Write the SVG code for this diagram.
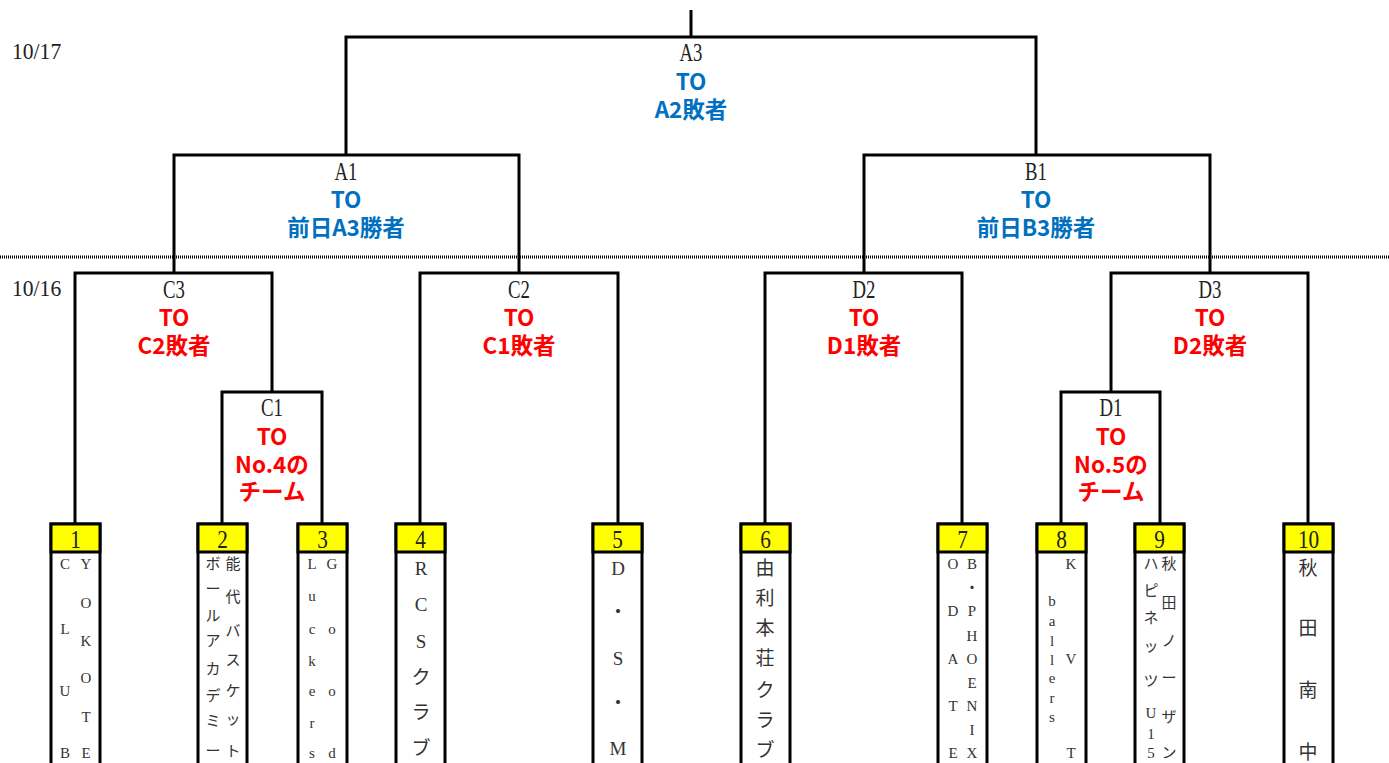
<svg xmlns="http://www.w3.org/2000/svg" width="1389" height="763" viewBox="0 0 1389 763">
<style>
.ln{fill:none;stroke:#000;stroke-width:3}
.bx{fill:#fff;stroke:#000;stroke-width:3}
.hd{fill:#ffff00;stroke:#000;stroke-width:3}
.lab{font-family:"Liberation Serif","Noto Sans CJK JP",serif;font-size:25px;fill:#222;text-anchor:middle}
.date{font-family:"Liberation Serif",serif;font-size:24px;fill:#222}
.num{font-family:"Liberation Serif",serif;font-size:25px;fill:#222;text-anchor:middle}
.nm{font-family:"Liberation Serif","Noto Sans CJK JP",serif;font-size:19px;fill:#333;text-anchor:middle}
.sm{font-family:"Liberation Serif","Noto Sans CJK JP",serif;font-size:15px;fill:#333;text-anchor:middle}
.blue{font-family:"Noto Sans CJK JP",sans-serif;font-weight:bold;font-size:22.5px;fill:#0070c0;text-anchor:middle}
.red{font-family:"Noto Sans CJK JP",sans-serif;font-weight:bold;font-size:22.5px;fill:#ff0000;text-anchor:middle}
</style>
<rect width="1389" height="763" fill="#fff"/>
<g id="connectors">
<path class="ln" d="M691 10V37M346 155V37H1036V155"/>
<path class="ln" d="M174 273V155H519V273"/>
<path class="ln" d="M864 273V155H1210V273"/>
<path class="ln" d="M75 523V273H272V392"/>
<path class="ln" d="M222 523V392H322V523"/>
<path class="ln" d="M420 523V273H618V523"/>
<path class="ln" d="M765 523V273H962V523"/>
<path class="ln" d="M1111 392V273H1308V523"/>
<path class="ln" d="M1061 523V392H1160V523"/>
<line x1="0" y1="257" x2="1389" y2="257" stroke="#000" stroke-width="3" stroke-dasharray="1,1"/>
</g>
<g id="dates">
<text class="date" transform="translate(12,59) scale(0.9,1)">10/17</text>
<text class="date" transform="translate(12,296) scale(0.9,1)">10/16</text>
</g>
<g id="A3"><text class="lab" transform="translate(691,61) scale(0.75,1)">A3</text><text class="blue" x="691" y="90">TO</text><text class="blue" x="691" y="118">A2敗者</text></g>
<g id="A1"><text class="lab" transform="translate(346,180) scale(0.75,1)">A1</text><text class="blue" x="346" y="208">TO</text><text class="blue" x="346" y="236">前日A3勝者</text></g>
<g id="B1"><text class="lab" transform="translate(1036,180) scale(0.75,1)">B1</text><text class="blue" x="1036" y="208">TO</text><text class="blue" x="1036" y="236">前日B3勝者</text></g>
<g id="C3"><text class="lab" transform="translate(174,298) scale(0.75,1)">C3</text><text class="red" x="174" y="326">TO</text><text class="red" x="174" y="354">C2敗者</text></g>
<g id="C2"><text class="lab" transform="translate(519,298) scale(0.75,1)">C2</text><text class="red" x="519" y="326">TO</text><text class="red" x="519" y="354">C1敗者</text></g>
<g id="D2"><text class="lab" transform="translate(864,298) scale(0.75,1)">D2</text><text class="red" x="864" y="326">TO</text><text class="red" x="864" y="354">D1敗者</text></g>
<g id="D3"><text class="lab" transform="translate(1210,298) scale(0.75,1)">D3</text><text class="red" x="1210" y="326">TO</text><text class="red" x="1210" y="354">D2敗者</text></g>
<g id="C1"><text class="lab" transform="translate(272,416) scale(0.75,1)">C1</text><text class="red" x="272" y="445">TO</text><text class="red" x="272" y="473">No.4の</text><text class="red" x="272" y="500">チーム</text></g>
<g id="D1"><text class="lab" transform="translate(1111,416) scale(0.75,1)">D1</text><text class="red" x="1111" y="445">TO</text><text class="red" x="1111" y="473">No.5の</text><text class="red" x="1111" y="500">チーム</text></g>

<g id="team1">
<rect class="bx" x="51" y="524" width="49" height="245"/><rect class="hd" x="51" y="524" width="49" height="28"/>
<text class="num" transform="translate(75.5,548) scale(0.85,1)">1</text>
<text class="sm"><tspan x="86" y="569">Y</tspan><tspan x="86" y="608">O</tspan><tspan x="86" y="646">K</tspan><tspan x="86" y="683">O</tspan><tspan x="86" y="722">T</tspan><tspan x="86" y="758">E</tspan></text>
<text class="sm"><tspan x="65" y="569">C</tspan><tspan x="65" y="634">L</tspan><tspan x="65" y="696">U</tspan><tspan x="65" y="758">B</tspan></text>
</g>
<g id="team2">
<rect class="bx" x="198" y="524" width="49" height="245"/><rect class="hd" x="198" y="524" width="49" height="28"/>
<text class="num" transform="translate(222.5,548) scale(0.85,1)">2</text>
<text class="sm"><tspan x="233" y="569">能</tspan><tspan x="233" y="602">代</tspan><tspan x="233" y="636">バ</tspan><tspan x="233" y="665">ス</tspan><tspan x="233" y="696">ケ</tspan><tspan x="233" y="724">ッ</tspan><tspan x="233" y="756">ト</tspan></text>
<text class="sm"><tspan x="213" y="569">ボ</tspan><tspan x="213" y="594">ー</tspan><tspan x="213" y="621">ル</tspan><tspan x="213" y="646">ア</tspan><tspan x="213" y="674">カ</tspan><tspan x="213" y="701">デ</tspan><tspan x="213" y="726">ミ</tspan><tspan x="213" y="756">ー</tspan></text>
</g>
<g id="team3">
<rect class="bx" x="298" y="524" width="49" height="245"/><rect class="hd" x="298" y="524" width="49" height="28"/>
<text class="num" transform="translate(322.5,548) scale(0.85,1)">3</text>
<text class="sm"><tspan x="332" y="569">G</tspan><tspan x="332" y="634">o</tspan><tspan x="332" y="696">o</tspan><tspan x="332" y="758">d</tspan></text>
<text class="sm"><tspan x="312" y="569">L</tspan><tspan x="312" y="601">u</tspan><tspan x="312" y="634">c</tspan><tspan x="312" y="666">k</tspan><tspan x="312" y="696">e</tspan><tspan x="312" y="728">r</tspan><tspan x="312" y="758">s</tspan></text>
</g>
<g id="team4">
<rect class="bx" x="396" y="524" width="49" height="245"/><rect class="hd" x="396" y="524" width="49" height="28"/>
<text class="num" transform="translate(420.5,548) scale(0.85,1)">4</text>
<text class="nm"><tspan x="421" y="575">R</tspan><tspan x="421" y="611">C</tspan><tspan x="421" y="648">S</tspan><tspan x="421" y="684">ク</tspan><tspan x="421" y="719">ラ</tspan><tspan x="421" y="755">ブ</tspan></text>
</g>
<g id="team5">
<rect class="bx" x="593" y="524" width="49" height="245"/><rect class="hd" x="593" y="524" width="49" height="28"/>
<text class="num" transform="translate(617.5,548) scale(0.85,1)">5</text>
<text class="nm"><tspan x="618" y="575">D</tspan><tspan x="618" y="619">・</tspan><tspan x="618" y="665">S</tspan><tspan x="618" y="710">・</tspan><tspan x="618" y="755">M</tspan></text>
</g>
<g id="team6">
<rect class="bx" x="741" y="524" width="49" height="245"/><rect class="hd" x="741" y="524" width="49" height="28"/>
<text class="num" transform="translate(765.5,548) scale(0.85,1)">6</text>
<text class="nm"><tspan x="765" y="575">由</tspan><tspan x="765" y="605">利</tspan><tspan x="765" y="635">本</tspan><tspan x="765" y="665">荘</tspan><tspan x="765" y="697">ク</tspan><tspan x="765" y="727">ラ</tspan><tspan x="765" y="757">ブ</tspan></text>
</g>
<g id="team7">
<rect class="bx" x="938" y="524" width="49" height="245"/><rect class="hd" x="938" y="524" width="49" height="28"/>
<text class="num" transform="translate(962.5,548) scale(0.85,1)">7</text>
<text class="sm"><tspan x="972" y="569">B</tspan><tspan x="972" y="593">・</tspan><tspan x="972" y="616">P</tspan><tspan x="972" y="641">H</tspan><tspan x="972" y="664">O</tspan><tspan x="972" y="688">E</tspan><tspan x="972" y="711">N</tspan><tspan x="972" y="735">I</tspan><tspan x="972" y="758">X</tspan></text>
<text class="sm"><tspan x="953" y="569">O</tspan><tspan x="953" y="616">D</tspan><tspan x="953" y="664">A</tspan><tspan x="953" y="711">T</tspan><tspan x="953" y="758">E</tspan></text>
</g>
<g id="team8">
<rect class="bx" x="1037" y="524" width="49" height="245"/><rect class="hd" x="1037" y="524" width="49" height="28"/>
<text class="num" transform="translate(1061.5,548) scale(0.85,1)">8</text>
<text class="sm"><tspan x="1071" y="569">K</tspan><tspan x="1071" y="664">V</tspan><tspan x="1071" y="758">T</tspan></text>
<text class="sm"><tspan x="1052" y="606">b</tspan><tspan x="1052" y="626">a</tspan><tspan x="1052" y="646">l</tspan><tspan x="1052" y="665">l</tspan><tspan x="1052" y="683">e</tspan><tspan x="1052" y="703">r</tspan><tspan x="1052" y="722">s</tspan></text>
</g>
<g id="team9">
<rect class="bx" x="1135" y="524" width="49" height="245"/><rect class="hd" x="1135" y="524" width="49" height="28"/>
<text class="num" transform="translate(1159.5,548) scale(0.85,1)">9</text>
<text class="sm"><tspan x="1169" y="569">秋</tspan><tspan x="1169" y="608">田</tspan><tspan x="1169" y="646">ノ</tspan><tspan x="1169" y="683">ー</tspan><tspan x="1169" y="722">ザ</tspan><tspan x="1169" y="758">ン</tspan></text>
<text class="sm"><tspan x="1151" y="569">ハ</tspan><tspan x="1151" y="596">ピ</tspan><tspan x="1151" y="623">ネ</tspan><tspan x="1151" y="651">ッ</tspan><tspan x="1151" y="686">ツ</tspan><tspan x="1151" y="718">U</tspan><tspan x="1151" y="739">1</tspan><tspan x="1151" y="758">5</tspan></text>
</g>
<g id="team10">
<rect class="bx" x="1284" y="524" width="49" height="245"/><rect class="hd" x="1284" y="524" width="49" height="28"/>
<text class="num" transform="translate(1308.5,548) scale(0.85,1)">10</text>
<text class="nm"><tspan x="1308" y="575">秋</tspan><tspan x="1308" y="635">田</tspan><tspan x="1308" y="697">南</tspan><tspan x="1308" y="759">中</tspan></text>
</g>
</svg>
